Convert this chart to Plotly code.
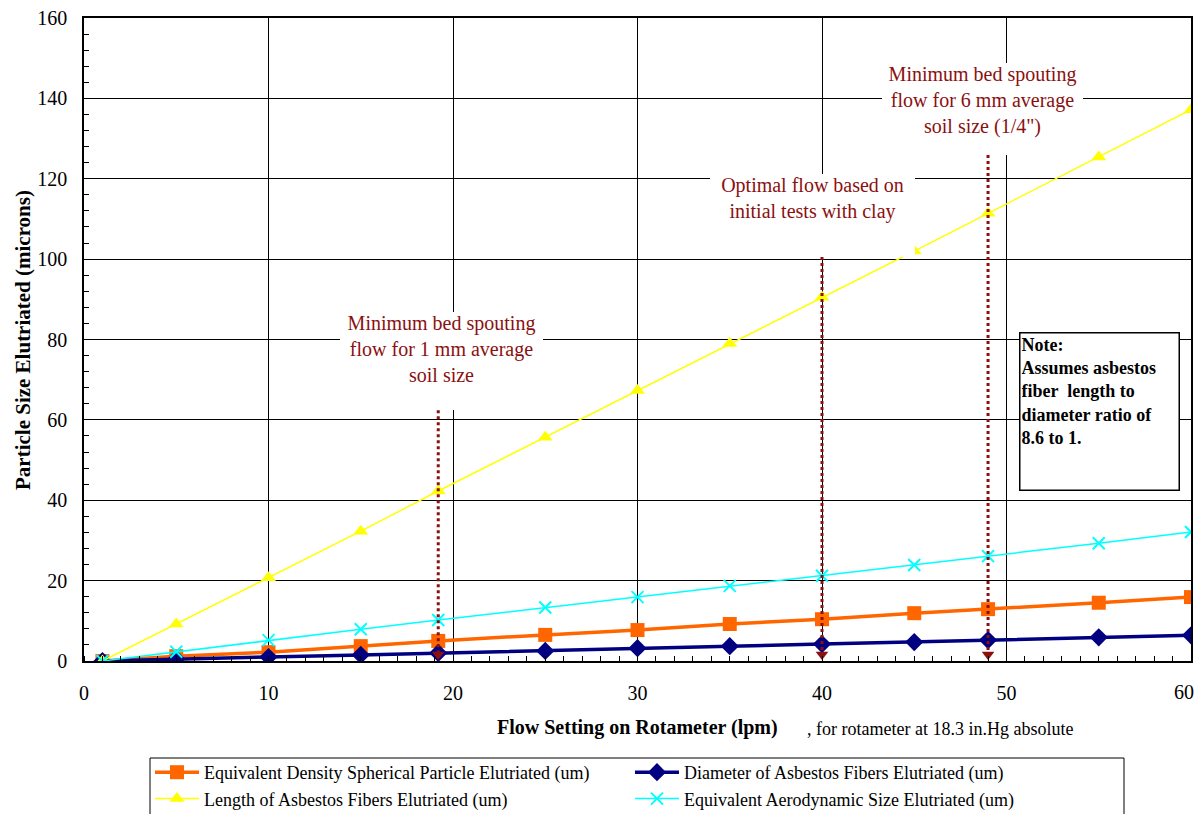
import plotly.graph_objects as go

# Data
flow = [1, 5, 10, 15, 19.2, 25, 30, 35, 40, 45, 49, 55, 60]
equiv_density = [0.0, 1.2, 2.2, 3.7, 5.0, 6.5, 7.7, 9.2, 10.4, 11.9, 12.9, 14.5, 15.9]
diameter = [0.0, 0.5, 1.0, 1.5, 2.0, 2.5, 3.2, 3.7, 4.2, 4.7, 5.2, 5.9, 6.4]
length = [0.0, 9.2, 20.7, 32.3, 42.3, 55.7, 67.3, 79.0, 90.5, 102.0, 111.4, 125.4, 137.2]
aero = [0.0, 2.3, 5.2, 7.9, 10.2, 13.3, 15.9, 18.7, 21.2, 23.9, 26.1, 29.3, 32.1]

names = [
    "Equivalent Density Spherical Particle Elutriated (um)",
    "Diameter of Asbestos Fibers Elutriated (um)",
    "Length of Asbestos Fibers Elutriated (um)",
    "Equivalent Aerodynamic Size Elutriated (um)",
]

x_ticks = [0, 10, 20, 30, 40, 50, 60]

# Reference flow markers (annotations)
ref_flows = [19.2, 40, 49]
ref_tops = [62.4, 100.5, 125.9]
ref_texts = [
    "Minimum bed spouting<br>flow for 1 mm average<br>soil size",
    "Optimal flow based on<br>initial tests with clay",
    "Minimum bed spouting<br>flow for 6 mm average<br>soil size (1/4\")",
]

FONT = "Liberation Serif"
DARKRED = "#8B1010"

# The page adds an 8px body margin; work in page pixels and convert.
OFF = 8
W, H = 1203 - OFF, 814 - OFF
PL, PR, PT, PB = 84, 1191, 18, 661   # plot area in page pixels
PW, PH = PR - PL, PB - PT


def px(xp):
    return (xp - PL) / PW


def py(yp):
    return (PB - yp) / PH


# text boxes (page pixels): left, right, top
boxes = [(340, 543, 314), (710, 915, 176), (882, 1083, 65)]

fig = go.Figure()

fig.add_trace(go.Scatter(
    x=flow, y=equiv_density, name=names[0], mode="lines+markers",
    line=dict(color="#FF6600", width=3.5),
    marker=dict(symbol="square", size=14, color="#FF6600")))
fig.add_trace(go.Scatter(
    x=flow, y=diameter, name=names[1], mode="lines+markers",
    line=dict(color="#000080", width=3.5),
    marker=dict(symbol="diamond", size=14, color="#000080")))
fig.add_trace(go.Scatter(
    x=flow, y=length, name=names[2], mode="lines+markers",
    line=dict(color="#FFFF00", width=1.5),
    marker=dict(symbol="triangle-up", size=13, color="#FFFF00")))
fig.add_trace(go.Scatter(
    x=flow, y=aero, name=names[3], mode="lines+markers",
    line=dict(color="#00FFFF", width=1.5),
    marker=dict(symbol="x-thin", size=12, color="#00FFFF",
                line=dict(width=2, color="#00FFFF"))))

# dotted reference lines with arrowheads
for xf, yt in zip(ref_flows, ref_tops):
    fig.add_shape(type="line", x0=xf, x1=xf, y0=yt, y1=1.5,
                  xref="x", yref="y",
                  line=dict(color=DARKRED, width=3, dash="dot"))
fig.add_trace(go.Scatter(
    x=ref_flows, y=[1.6] * len(ref_flows), mode="markers", showlegend=False,
    hoverinfo="skip",
    marker=dict(symbol="triangle-down", size=11, color=DARKRED)))

for (bl, br, bt), txt, yb in zip(boxes, ref_texts, ref_tops):
    bottom = PB - yb * PH / 160.0
    fig.add_annotation(
        x=px((bl + br) / 2), y=py(bt - 2), xref="paper", yref="paper",
        xanchor="center", yanchor="top",
        width=br - bl, height=bottom - bt + 2, valign="top",
        text=txt, showarrow=False, bgcolor="white",
        borderpad=0, borderwidth=0,
        font=dict(family=FONT, size=20, color=DARKRED), align="center")

# Note box
fig.add_annotation(
    x=px(1019), y=py(332), xref="paper", yref="paper",
    xanchor="left", yanchor="top",
    text="<b>Note:<br>Assumes asbestos<br>fiber  length to<br>diameter ratio of<br>8.6 to 1.</b>",
    showarrow=False, align="left", valign="top",
    width=156, height=154, bgcolor="white",
    bordercolor="black", borderwidth=1.5, borderpad=1,
    font=dict(family=FONT, size=18, color="black"))

# last x tick label (kept inside the visible page)
fig.add_annotation(
    x=x_ticks[-1], y=py(692), xref="x", yref="paper",
    xanchor="right", yanchor="middle", xshift=5,
    text=str(x_ticks[-1]), showarrow=False,
    font=dict(family=FONT, size=20, color="black"))

# Axis titles
fig.add_annotation(
    x=px(23), y=py(340), xref="paper", yref="paper",
    xanchor="center", yanchor="middle",
    text="<b>Particle Size Elutriated (microns)</b>", textangle=-90,
    showarrow=False, font=dict(family=FONT, size=21, color="black"))
fig.add_annotation(
    x=px(780), y=py(727), xref="paper", yref="paper",
    xanchor="right", yanchor="middle",
    text="<b>Flow Setting on Rotameter (lpm)</b>",
    showarrow=False, font=dict(family=FONT, size=20, color="black"))
fig.add_annotation(
    x=px(805), y=py(729), xref="paper", yref="paper",
    xanchor="left", yanchor="middle",
    text=", for rotameter at 18.3 in.Hg absolute",
    showarrow=False, font=dict(family=FONT, size=18, color="black"))

# legend frame
fig.add_shape(type="rect", xref="paper", yref="paper",
              x0=px(150), x1=px(1124), y0=py(758), y1=py(840),
              line=dict(color="black", width=1), fillcolor="white",
              layer="below")

fig.update_layout(
    width=W, height=H,
    margin=dict(l=PL - OFF, r=W - (PR - OFF),
                t=PT - OFF, b=H - (PB - OFF), autoexpand=False),
    plot_bgcolor="white", paper_bgcolor="white",
    font=dict(family=FONT, size=20, color="black"),
    showlegend=True,
    legend=dict(
        orientation="h", x=px(150), y=py(754),
        xanchor="left", yanchor="top",
        borderwidth=0, bgcolor="rgba(0,0,0,0)",
        font=dict(family=FONT, size=18, color="black"),
        entrywidth=421, itemwidth=44, tracegroupgap=0,
    ),
    xaxis=dict(
        range=[0, 60], tickvals=x_ticks[:-1],
        showgrid=True, gridcolor="#000000", gridwidth=1,
        showline=True, linecolor="black", linewidth=1.5, mirror=True,
        ticks="", zeroline=False, ticklabelstandoff=13,
        ticklabeloverflow="allow",
        minor=dict(dtick=1, ticks="inside", ticklen=5, tickcolor="black",
                   showgrid=False),
        tickfont=dict(family=FONT, size=20),
    ),
    yaxis=dict(
        range=[0, 160], dtick=20, tick0=0,
        showgrid=True, gridcolor="#000000", gridwidth=1,
        showline=True, linecolor="black", linewidth=1.5, mirror=True,
        ticks="", zeroline=False, ticklabelstandoff=11,
        ticklabeloverflow="allow",
        minor=dict(dtick=4, ticks="inside", ticklen=5, tickcolor="black",
                   showgrid=False),
        tickfont=dict(family=FONT, size=20),
    ),
)

fig.write_html("out.html")
